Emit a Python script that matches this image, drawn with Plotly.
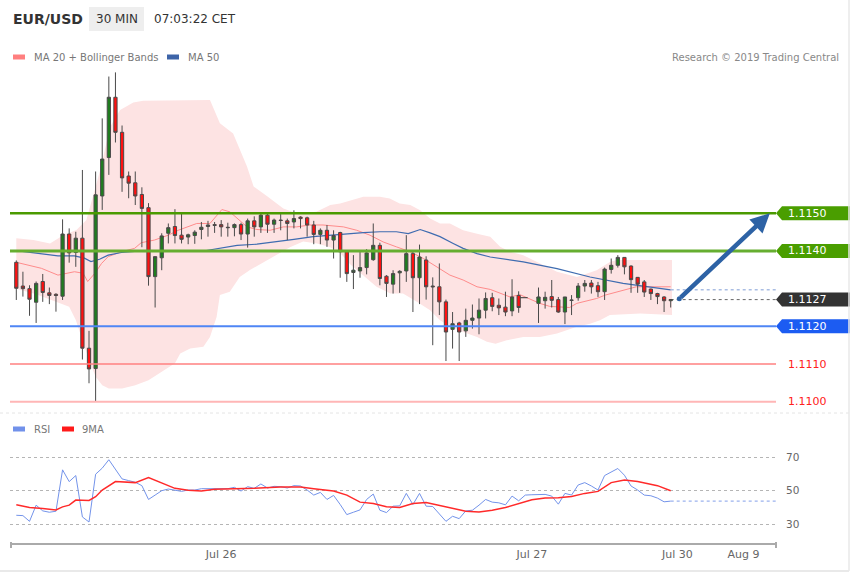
import plotly.graph_objects as go

# ---------------- data ----------------
# 30-min bar slots (two slots have no bar)
bars = list(range(0, 77)) + list(range(79, 100))

opens = [1.11370, 1.11307, 1.11300, 1.11264, 1.11319, 1.11289, 1.11285, 1.11280, 1.11445, 1.11396,
         1.11434, 1.11142, 1.11088, 1.11546, 1.11648, 1.11808, 1.11715, 1.11599, 1.11581, 1.11550,
         1.11515, 1.11332, 1.11382, 1.11447, 1.11465, 1.11442, 1.11437, 1.11441, 1.11457, 1.11465,
         1.11470, 1.11470, 1.11463, 1.11462, 1.11470, 1.11445, 1.11480, 1.11464, 1.11495, 1.11471,
         1.11482, 1.11480, 1.11477, 1.11490, 1.11488, 1.11469, 1.11444, 1.11455, 1.11429, 1.11449,
         1.11398, 1.11343, 1.11347, 1.11356, 1.11377, 1.11415, 1.11333, 1.11312, 1.11342, 1.11347,
         1.11393, 1.11329, 1.11376, 1.11307, 1.11305, 1.11265, 1.11192, 1.11209, 1.11188, 1.11216,
         1.11222, 1.11243, 1.11276, 1.11256, 1.11251, 1.11241, 1.11282,
         1.11261, 1.11268, 1.11279, 1.11271, 1.11238, 1.11270, 1.11276, 1.11307, 1.11315, 1.11308,
         1.11292, 1.11351, 1.11362, 1.11383, 1.11360, 1.11330, 1.11318, 1.11299, 1.11287, 1.11278, 1.11268]
highs = [1.11375, 1.11345, 1.11309, 1.11319, 1.11339, 1.11303, 1.11288, 1.11484, 1.11460, 1.11451,
         1.11615, 1.11188, 1.11611, 1.11752, 1.11863, 1.11874, 1.11733, 1.11611, 1.11611, 1.11569,
         1.11527, 1.11385, 1.11447, 1.11473, 1.11511, 1.11502, 1.11446, 1.11455, 1.11477, 1.11480,
         1.11477, 1.11482, 1.11475, 1.11473, 1.11475, 1.11486, 1.11492, 1.11501, 1.11498, 1.11486,
         1.11498, 1.11486, 1.11508, 1.11492, 1.11491, 1.11480, 1.11460, 1.11469, 1.11455, 1.11451,
         1.11400, 1.11389, 1.11398, 1.11405, 1.11473, 1.11422, 1.11336, 1.11349, 1.11349, 1.11442,
         1.11398, 1.11417, 1.11386, 1.11330, 1.11367, 1.11271, 1.11238, 1.11212, 1.11247, 1.11258,
         1.11274, 1.11290, 1.11289, 1.11274, 1.11292, 1.11325, 1.11293,
         1.11303, 1.11292, 1.11323, 1.11278, 1.11278, 1.11283, 1.11315, 1.11323, 1.11323, 1.11318,
         1.11356, 1.11380, 1.11389, 1.11384, 1.11362, 1.11331, 1.11323, 1.11300, 1.11289, 1.11280, 1.11272]
lows = [1.11270, 1.11279, 1.11228, 1.11209, 1.11265, 1.11259, 1.11239, 1.11270, 1.11369, 1.11358,
        1.11112, 1.11049, 1.11000, 1.11509, 1.11602, 1.11688, 1.11557, 1.11540, 1.11522, 1.11410,
        1.11308, 1.11250, 1.11349, 1.11420, 1.11420, 1.11420, 1.11418, 1.11419, 1.11431, 1.11438,
        1.11448, 1.11438, 1.11438, 1.11439, 1.11429, 1.11409, 1.11438, 1.11448, 1.11448, 1.11448,
        1.11455, 1.11429, 1.11460, 1.11460, 1.11438, 1.11418, 1.11418, 1.11411, 1.11380, 1.11329,
        1.11318, 1.11299, 1.11329, 1.11338, 1.11374, 1.11309, 1.11278, 1.11287, 1.11289, 1.11318,
        1.11238, 1.11259, 1.11271, 1.11150, 1.11230, 1.11108, 1.11141, 1.11108, 1.11172, 1.11194,
        1.11179, 1.11221, 1.11240, 1.11230, 1.11227, 1.11227, 1.11236,
        1.11209, 1.11247, 1.11250, 1.11236, 1.11206, 1.11230, 1.11268, 1.11292, 1.11287, 1.11278,
        1.11270, 1.11340, 1.11356, 1.11338, 1.11289, 1.11289, 1.11278, 1.11270, 1.11259, 1.11238, 1.11250]
closes = [1.11301, 1.11300, 1.11272, 1.11314, 1.11290, 1.11282, 1.11282, 1.11445, 1.11395, 1.11434,
          1.11142, 1.11087, 1.11549, 1.11644, 1.11808, 1.11715, 1.11594, 1.11580, 1.11546, 1.11513,
          1.11332, 1.11385, 1.11440, 1.11462, 1.11441, 1.11431, 1.11443, 1.11450, 1.11463, 1.11469,
          1.11468, 1.11464, 1.11462, 1.11470, 1.11445, 1.11480, 1.11464, 1.11495, 1.11471, 1.11482,
          1.11481, 1.11473, 1.11486, 1.11486, 1.11469, 1.11444, 1.11455, 1.11429, 1.11441, 1.11398,
          1.11340, 1.11349, 1.11356, 1.11395, 1.11415, 1.11327, 1.11314, 1.11340, 1.11346, 1.11393,
          1.11329, 1.11384, 1.11305, 1.11305, 1.11265, 1.11185, 1.11207, 1.11185, 1.11216, 1.11222,
          1.11243, 1.11274, 1.11253, 1.11249, 1.11238, 1.11278, 1.11250,
          1.11278, 1.11277, 1.11269, 1.11238, 1.11278, 1.11269, 1.11307, 1.11314, 1.11305, 1.11292,
          1.11352, 1.11362, 1.11383, 1.11358, 1.11324, 1.11312, 1.11291, 1.11287, 1.11279, 1.11268, 1.11271]

gap_bars = [76, 79]
gap_price = 1.11276

# Bollinger bands (upper / lower) read at bar positions
upper_x = [0, 2.6, 5.1, 7.1, 9.1, 10.6, 12.7, 14.2, 15.7, 17.7, 19.2, 29.3, 30.8, 32.8, 34.9, 35.9,
           37.9, 40.4, 42.4, 45.4, 47.5, 49, 52.5, 55, 56.5, 58, 59.6, 61.1, 62.6, 64.1, 65.6, 67.6,
           69.7, 71.7, 73.2, 74.7, 76.7, 79.2, 81.8, 84.8, 87.8, 89.8, 90.8, 99.2]
upper_band = [1.11434, 1.11429, 1.11420, 1.11442, 1.11456, 1.11482, 1.11615, 1.11730, 1.11774, 1.11794,
              1.11799, 1.11801, 1.11739, 1.11712, 1.11624, 1.11571, 1.11546, 1.11513, 1.11500, 1.11504,
              1.11522, 1.11526, 1.11544, 1.11544, 1.11539, 1.11526, 1.11522, 1.11508, 1.11486, 1.11473,
              1.11473, 1.11455, 1.11446, 1.11438, 1.11411, 1.11398, 1.11389, 1.11367, 1.11345, 1.11331,
              1.11349, 1.11371, 1.11376, 1.11376]
lower_x = [0, 3, 6, 8, 9, 10, 11, 12, 13, 14, 16, 18, 20, 22, 24, 24.8, 26.3, 28.3, 29.3, 30.3,
           30.8, 32.3, 33.8, 35.4, 37.4, 39.4, 41.4, 43.4, 45.5, 47.5, 49, 50.5, 52.5, 54.5, 56.6, 58.5,
           60.6, 62.6, 64.1, 65.6, 67.6, 69.7, 71.2, 72.5, 74.2, 76.7, 79.2, 81.8, 84.8, 86.8, 88.3,
           89.8, 94.4, 99.2]
lower_band = [1.11300, 1.11285, 1.11265, 1.11252, 1.11217, 1.11164, 1.11111, 1.11066, 1.11044, 1.11035,
              1.11035, 1.11044, 1.11057, 1.11080, 1.11102, 1.11128, 1.11141, 1.11146, 1.11172, 1.11225,
              1.11283, 1.11292, 1.11331, 1.11350, 1.11371, 1.11390, 1.11410, 1.11425, 1.11420, 1.11410,
              1.11395, 1.11365, 1.11335, 1.11305, 1.11287, 1.11287, 1.11265, 1.11243, 1.11216, 1.11199,
              1.11185, 1.11172, 1.11159, 1.11154, 1.11163, 1.11172, 1.11172, 1.11181, 1.11199, 1.11207,
              1.11216, 1.11230, 1.11234, 1.11230]

ma20_x = [0, 3.8, 6.3, 8.8, 10.1, 10.8, 11.9, 12.9, 13.9, 15.9, 17.9, 18.9, 20.9, 23, 24.5, 27.3,
          29.3, 31.1, 32.3, 33.8, 34.9, 36.4, 38.4, 40.4, 42.4, 44.4, 46.4, 49.5, 51.5, 53.5, 55.5,
          57.5, 59.6, 61.6, 63.6, 65.6, 67.6, 69.7, 71.7, 74.7, 76.2, 79.2, 80.7, 83.7, 84.8, 87.8,
          89.1, 91.8, 93.8, 99]
ma20 = [1.11370, 1.11354, 1.11336, 1.11345, 1.11341, 1.11319, 1.11341, 1.11367, 1.11385, 1.11398,
        1.11407, 1.11422, 1.11429, 1.11442, 1.11455, 1.11473, 1.11473, 1.11510, 1.11504, 1.11482,
        1.11464, 1.11457, 1.11455, 1.11464, 1.11464, 1.11469, 1.11469, 1.11464, 1.11455, 1.11442,
        1.11424, 1.11411, 1.11398, 1.11380, 1.11358, 1.11336, 1.11323, 1.11305, 1.11298, 1.11278,
        1.11284, 1.11261, 1.11253, 1.11250, 1.11261, 1.11274, 1.11283, 1.11296, 1.11305, 1.11305]

ma50_x = [0, 3.8, 6.3, 8.8, 10.3, 11.3, 12.6, 13.9, 15.9, 17.9, 19.9, 28.3, 33.4, 36.4, 39.4, 42,
          44.9, 47.5, 50.5, 52.5, 55, 57.5, 59.3, 61.1, 62.6, 64.1, 66.1, 67.6, 69.7, 71.7, 76.7,
          81.8, 86.8, 91.8, 99]
ma50 = [1.11401, 1.11392, 1.11387, 1.11387, 1.11381, 1.11372, 1.11378, 1.11389, 1.11396, 1.11399,
        1.11401, 1.11400, 1.11415, 1.11418, 1.11424, 1.11431, 1.11438, 1.11442, 1.11446, 1.11449,
        1.11451, 1.11451, 1.11446, 1.11457, 1.11448, 1.11438, 1.11420, 1.11407, 1.11393, 1.11384,
        1.11371, 1.11353, 1.11331, 1.11314, 1.11297]

rsi = [35.4, 35.2, 31.8, 41.4, 38.0, 37.2, 37.8, 62.4, 55.4, 59.0,
       34.4, 31.4, 59.8, 63.4, 68.4, 62.8, 57.0, 56.0, 55.0, 53.0,
       44.8, 47.4, 50.0, 51.0, 50.2, 49.6, 50.4, 50.4, 51.2, 51.2,
       51.6, 51.4, 51.2, 52.0, 49.8, 52.4, 51.4, 54.0, 51.6, 52.6,
       52.4, 51.6, 53.0, 52.8, 50.4, 47.4, 49.0, 44.8, 47.2, 41.8,
       35.8, 37.2, 38.6, 44.8, 48.0, 38.4, 37.0, 40.8, 41.0, 48.4,
       41.8, 48.4, 40.8, 40.6, 36.4, 31.8, 34.8, 33.4, 38.0, 38.4,
       41.4, 44.8, 43.2, 42.8, 41.6, 46.8, 44.0, 47.4, 47.6, 47.8,
       47.8, 46.8, 42.0, 48.4, 47.4, 53.4, 54.8, 52.8, 50.4, 59.0,
       61.0, 63.2, 59.2, 52.8, 50.4, 47.4, 47.0, 45.6, 43.4, 43.8]
rsi_x = list(range(len(rsi)))

ma9_x = [0, 2, 4, 6, 7, 8, 9, 11, 12, 13, 15, 17, 18, 20, 22, 24, 26, 28, 30, 33,
         36, 40, 43, 45, 48, 50, 52, 54, 56, 58, 60, 62, 64, 66, 68, 70, 72, 74, 76, 78,
         80, 82, 84, 86, 88, 90, 92, 94, 97, 99]
ma9 = [41.6, 40.0, 39.4, 38.6, 40.4, 41.4, 44.4, 44.2, 46.4, 50.4, 55.4, 54.8, 54.8, 57.8, 54.4,
       51.4, 50.2, 49.8, 50.8, 51.0, 51.4, 52.2, 52.2, 51.2, 49.8, 47.4, 43.2, 42.4, 40.4, 40.0,
       42.4, 43.0, 41.2, 39.8, 37.8, 37.4, 38.4, 40.0, 42.4, 44.6, 45.6, 45.8, 46.6, 48.4, 49.6,
       54.8, 56.4, 55.4, 53.0, 50.0]

tick_pos = [31, 78, 100, 110]
tick_text = ["Jul 26", "Jul 27", "Jul 30", "Aug 9"]

resistances = [1.1150, 1.1140]
pivot = 1.1120
supports = [1.1110, 1.1100]
forecast_from = (100.3, 1.11273)
forecast_to = (114.0, 1.1150)

# ---------------- layout helpers ----------------
W, H = 850, 576
ML, MR = 10, 74
PW = W - ML - MR
FONT = "DejaVu Sans"


def px_x(px):
    return (px - ML) / PW


def px_y(py):
    return 1 - py / H


X_RANGE = [-0.953, 114.93]
Y_MAIN = [1.109727, 1.118936]
Y_RSI = [18.92, 80.13]
PIP_PX = 3.768  # pixels per pip in main panel

fig = go.Figure()

# Bollinger band area (base price axes)
fig.add_trace(go.Scatter(
    x=upper_x + lower_x[::-1], y=upper_band + lower_band[::-1],
    fill="toself", fillcolor="#fde3e3", line=dict(width=0), mode="lines",
    hoverinfo="skip", showlegend=False, xaxis="x", yaxis="y"))
fig.add_trace(go.Scatter(x=ma20_x, y=ma20, mode="lines",
                         line=dict(color="#ff8c8c", width=1), showlegend=False,
                         xaxis="x", yaxis="y"))
fig.add_trace(go.Scatter(x=ma50_x, y=ma50, mode="lines",
                         line=dict(color="#3f6cb0", width=1.2), showlegend=False,
                         xaxis="x", yaxis="y"))
fig.add_trace(go.Scatter(x=[ma50_x[-1], X_RANGE[1]], y=[ma50[-1], ma50[-1]], mode="lines",
                         line=dict(color="#a9bde3", width=1.5, dash="dot"), showlegend=False,
                         xaxis="x", yaxis="y"))
fig.add_trace(go.Scatter(x=[bars[-1], X_RANGE[1]], y=[closes[-1], closes[-1]], mode="lines",
                         line=dict(color="#666666", width=1, dash="dot"), showlegend=False,
                         xaxis="x", yaxis="y"))
fig.add_trace(go.Scatter(x=gap_bars, y=[gap_price, gap_price], mode="lines",
                         line=dict(color="#333333", width=1, dash="dash"), showlegend=False,
                         xaxis="x", yaxis="y"))

# candles on an overlay of the same price axes, so they sit above the band
fig.add_trace(go.Candlestick(
    x=bars, open=opens, high=highs, low=lows, close=closes,
    increasing=dict(fillcolor="#1f7d1f", line=dict(color="#4a4a4a", width=1)),
    decreasing=dict(fillcolor="#ff1010", line=dict(color="#4a4a4a", width=1)),
    whiskerwidth=0, showlegend=False, xaxis="x3", yaxis="y3"))

fig.add_trace(go.Scatter(x=[forecast_from[0]], y=[forecast_from[1]], mode="markers",
                         marker=dict(color="#2d62a5", size=5), showlegend=False,
                         xaxis="x3", yaxis="y3"))

# RSI panel
fig.add_trace(go.Scatter(x=rsi_x, y=rsi, mode="lines", line=dict(color="#7393ea", width=1),
                         showlegend=False, xaxis="x2", yaxis="y2"))
fig.add_trace(go.Scatter(x=ma9_x, y=ma9, mode="lines", line=dict(color="#ff2a2a", width=1.5),
                         showlegend=False, xaxis="x2", yaxis="y2"))
fig.add_trace(go.Scatter(x=[rsi_x[-1], X_RANGE[1]], y=[rsi[-1], rsi[-1]], mode="lines",
                         line=dict(color="#9cb2ee", width=1.2, dash="dot"),
                         showlegend=False, xaxis="x2", yaxis="y2"))

shapes = []
annotations = []

# level lines
level_styles = [
    (resistances[0], "#4a9a00", 2.5),
    (resistances[1], "#66ae30", 3),
    (pivot, "#4f86f5", 2),
    (supports[0], "#ff8080", 1.5),
    (supports[1], "#ffb6b6", 2),
]
for lv, col, wd in level_styles:
    shapes.append(dict(type="line", xref="paper", yref="y", x0=0, x1=1, y0=lv, y1=lv,
                       line=dict(color=col, width=wd), layer="above"))

# labelled boxes at right
half = 7 / PIP_PX * 0.0001
box_levels = [(resistances[0], "#4a9e00"), (resistances[1], "#4a9e00"),
              (closes[-1], "#333333"), (pivot, "#1c5cf2")]
tip, left, right = px_x(776), px_x(782), px_x(851)
for lv, col in box_levels:
    path = (f"M {tip},{lv} L {left},{lv + half} L {right},{lv + half} "
            f"L {right},{lv - half} L {left},{lv - half} Z")
    shapes.append(dict(type="path", xref="paper", yref="y", path=path,
                       fillcolor=col, line=dict(width=0), layer="above"))
    annotations.append(dict(xref="paper", yref="y", x=px_x(786), y=lv, xanchor="left",
                            yanchor="middle", text=f"{lv:.4f}", showarrow=False,
                            font=dict(family=FONT, size=11, color="white")))
for lv in supports:
    annotations.append(dict(xref="paper", yref="y", x=px_x(786), y=lv, xanchor="left",
                            yanchor="middle", text=f"{lv:.4f}", showarrow=False,
                            font=dict(family=FONT, size=11, color="#ff2020")))

# forecast arrow
annotations.append(dict(xref="x", yref="y", axref="x", ayref="y",
                        x=forecast_to[0], y=forecast_to[1],
                        ax=forecast_from[0], ay=forecast_from[1],
                        text="", showarrow=True, arrowhead=2, arrowsize=0.85,
                        arrowwidth=4.5, arrowcolor="#2d62a5", standoff=0))

# header
shapes.append(dict(type="rect", xref="paper", yref="paper", x0=px_x(89), x1=px_x(144),
                   y0=px_y(31), y1=px_y(7), fillcolor="#eeeeee", line=dict(width=0),
                   layer="below"))
annotations += [
    dict(xref="paper", yref="paper", x=px_x(11), y=px_y(19), xanchor="left", yanchor="middle",
         text="<b>EUR/USD</b>", showarrow=False, font=dict(family=FONT, size=14, color="#333333")),
    dict(xref="paper", yref="paper", x=px_x(116.5), y=px_y(19), xanchor="center", yanchor="middle",
         text="30 MIN", showarrow=False, font=dict(family=FONT, size=12, color="#333333")),
    dict(xref="paper", yref="paper", x=px_x(152), y=px_y(19), xanchor="left", yanchor="middle",
         text="07:03:22 CET", showarrow=False, font=dict(family=FONT, size=12, color="#333333")),
    dict(xref="paper", yref="paper", x=px_x(841), y=px_y(57), xanchor="right", yanchor="middle",
         text="Research © 2019 Trading Central", showarrow=False,
         font=dict(family=FONT, size=10, color="#888888")),
]

# legends (swatch + text)
legend_items = [
    (13, 57, "#ff7f7f", 32, "MA 20 + Bollinger Bands"),
    (167, 57, "#3d64a8", 186, "MA 50"),
    (13, 429, "#7191ea", 32, "RSI"),
    (62, 429, "#ff1a1a", 80, "9MA"),
]
for sx, sy, col, tx, label in legend_items:
    shapes.append(dict(type="rect", xref="paper", yref="paper", x0=px_x(sx), x1=px_x(sx + 12),
                       y0=px_y(sy + 2.5), y1=px_y(sy - 2.5), fillcolor=col, line=dict(width=0)))
    annotations.append(dict(xref="paper", yref="paper", x=px_x(tx), y=px_y(sy), xanchor="left",
                            yanchor="middle", text=label, showarrow=False,
                            font=dict(family=FONT, size=10, color="#777777")))

# separators / borders / axis end ticks
shapes += [
    dict(type="line", xref="paper", yref="paper", x0=px_x(0), x1=px_x(849), y0=px_y(413),
         y1=px_y(413), line=dict(color="#e4e4e4", width=1, dash="dot")),
    dict(type="line", xref="paper", yref="paper", x0=px_x(0), x1=px_x(849), y0=px_y(571),
         y1=px_y(571), line=dict(color="#e2e2e2", width=1.5)),
    dict(type="line", xref="paper", yref="paper", x0=px_x(849), x1=px_x(849), y0=px_y(0),
         y1=px_y(571), line=dict(color="#e8e8e8", width=1.5)),
    dict(type="line", xref="paper", yref="paper", x0=px_x(11), x1=px_x(11), y0=px_y(548),
         y1=px_y(542), line=dict(color="#aaaaaa", width=2)),
    dict(type="line", xref="paper", yref="paper", x0=px_x(776), x1=px_x(776), y0=px_y(548),
         y1=px_y(542), line=dict(color="#aaaaaa", width=2)),
]

hidden = dict(showticklabels=False, showgrid=False, zeroline=False, showline=False, ticks="",
              automargin=False)
main_dom = [px_y(412), px_y(65)]

fig.update_layout(
    width=W, height=H, margin=dict(l=ML, r=MR, t=0, b=0),
    paper_bgcolor="white", plot_bgcolor="white", showlegend=False,
    font=dict(family=FONT),
    xaxis=dict(domain=[0, 1], range=X_RANGE, anchor="y", rangeslider=dict(visible=False), **hidden),
    yaxis=dict(domain=main_dom, range=Y_MAIN, anchor="x", **hidden),
    xaxis3=dict(range=X_RANGE, overlaying="x", anchor="y3", rangeslider=dict(visible=False),
                **hidden),
    yaxis3=dict(range=Y_MAIN, overlaying="y", anchor="x3", **hidden),
    xaxis2=dict(domain=[0, 1], range=X_RANGE, anchor="y2", tickvals=tick_pos, ticktext=tick_text,
                showgrid=False, zeroline=False, showline=True, linecolor="#aaaaaa", linewidth=2,
                ticks="", tickfont=dict(family=FONT, size=11, color="#666666"), automargin=False),
    yaxis2=dict(domain=[px_y(543), px_y(440)], range=Y_RSI, anchor="x2", side="right",
                tickvals=[30, 50, 70], showgrid=True, gridcolor="#b5b5b5", griddash="dot",
                gridwidth=1, zeroline=False, showline=False, ticks="outside", ticklen=7,
                tickcolor="rgba(0,0,0,0)",
                tickfont=dict(family=FONT, size=10.5, color="#666666"), automargin=False),
    shapes=shapes, annotations=annotations,
)

fig.write_html("out.html", config={"displayModeBar": False},
               post_script="document.body.style.margin='0px';")
